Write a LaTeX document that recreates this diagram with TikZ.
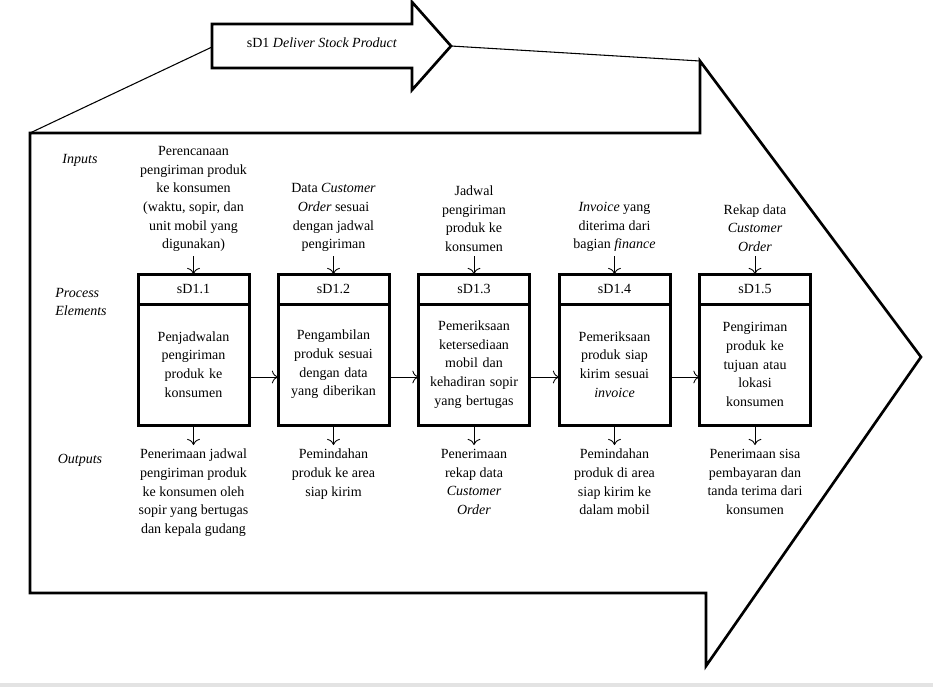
\documentclass[tikz,border=0pt]{standalone}
\usepackage{fontspec}
\setmainfont{Liberation Serif}
\usetikzlibrary{arrows.meta}

\begin{document}
\begin{tikzpicture}[x=0.75pt,y=-0.75pt,
    outline/.style={line width=2pt,line join=miter},
    link/.style={line width=0.8pt},
    flow/.style={-{To[scale=1.5]},line width=0.65pt},
    txt/.style={font=\fontsize{10.5}{14}\selectfont,align=center,inner sep=3pt},
    lbl/.style={font=\fontsize{10.5}{14}\selectfont\itshape,align=left,inner sep=0pt},
    headbox/.style={draw,line width=2.25pt,outer sep=0pt,minimum width=83.25pt,
      minimum height=22.5pt,inner sep=0pt,font=\fontsize{10.5}{14}\selectfont},
    bodybox/.style={draw,line width=2.25pt,outer sep=0pt,minimum width=83.25pt,
      minimum height=90.75pt,text width=78pt,inner sep=0pt,align=center,
      font=\fontsize{10.5}{14}\selectfont}]
    \useasboundingbox (0,0) rectangle (933,687);
    \fill[gray!22] (0,683) rectangle (933,687);
    % big chevron
    \coordinate (bigtl) at (30,133);
    \coordinate (bigtr) at (700,61);
    \draw[outline] (bigtl) -- (700,133) -- (bigtr) -- (921,357) -- (706,666)
      -- (706,593) -- (30,593) -- cycle;
    % small arrow on top
    \coordinate (smallw) at (212,47);
    \coordinate (smalltip) at (451,46);
    \draw[outline] (212,24) -- (412,24) -- (412,2) -- (smalltip) -- (412,90)
      -- (412,68) -- (212,68) -- cycle;
    \node[txt] at (322,43) (title) {sD1 \textit{Deliver Stock Product}};
    \draw[link] (smallw) -- (bigtl) (smalltip) -- (bigtr);
    % row labels
    \node[lbl] at (80,160) (inputs) {Inputs};
    \node[lbl] at (81,302) (procel) {Process\\Elements};
    \node[lbl] at (80,460) (outputs) {Outputs};
    \newcommand\procstep[5]{
      \node[headbox] at (#2,289) (h#1) {sD1.#1};
      \node[bodybox,anchor=north] at (h#1.south) (b#1) {#4};
      \node[txt,anchor=south] at (#2,256) (in#1) {#3};
      \node[txt,anchor=north] at (#2,445) (out#1) {#5};
      \draw[flow] (in#1) -- (h#1);
      \draw[flow] (b#1) -- (out#1);
    }
    \procstep{1}{193.5}{Perencanaan\\pengiriman produk\\ke konsumen\\(waktu, sopir, dan\\unit mobil yang\\digunakan)}%
      {Penjadwalan\\pengiriman\\produk ke\\konsumen}%
      {Penerimaan jadwal\\pengiriman produk\\ke konsumen oleh\\sopir yang bertugas\\dan kepala gudang};
    \procstep{2}{333.5}{Data \textit{Customer}\\\textit{Order} sesuai\\dengan jadwal\\pengiriman}%
      {Pengambilan\\produk sesuai\\dengan data\\yang diberikan}%
      {Pemindahan\\produk ke area\\siap kirim};
    \procstep{3}{474}{Jadwal\\pengiriman\\produk ke\\konsumen}%
      {Pemeriksaan\\ketersediaan\\mobil dan\\kehadiran sopir\\yang bertugas}%
      {Penerimaan\\rekap data\\\textit{Customer}\\\textit{Order}};
    \procstep{4}{614.5}{\textit{Invoice} yang\\diterima dari\\bagian \textit{finance}}%
      {Pemeriksaan\\produk siap\\kirim sesuai\\\textit{invoice}}%
      {Pemindahan\\produk di area\\siap kirim ke\\dalam mobil};
    \procstep{5}{755}{Rekap data\\\textit{Customer}\\\textit{Order}}%
      {Pengiriman\\produk ke\\tujuan atau\\lokasi\\konsumen}%
      {Penerimaan sisa\\pembayaran dan\\tanda terima dari\\konsumen};
    \foreach \i/\j in {1/2,2/3,3/4,4/5}
      \draw[flow] ([yshift=-9.4pt]b\i.east) -- ([yshift=-9.4pt]b\j.west);
  \end{tikzpicture}
\end{document}
